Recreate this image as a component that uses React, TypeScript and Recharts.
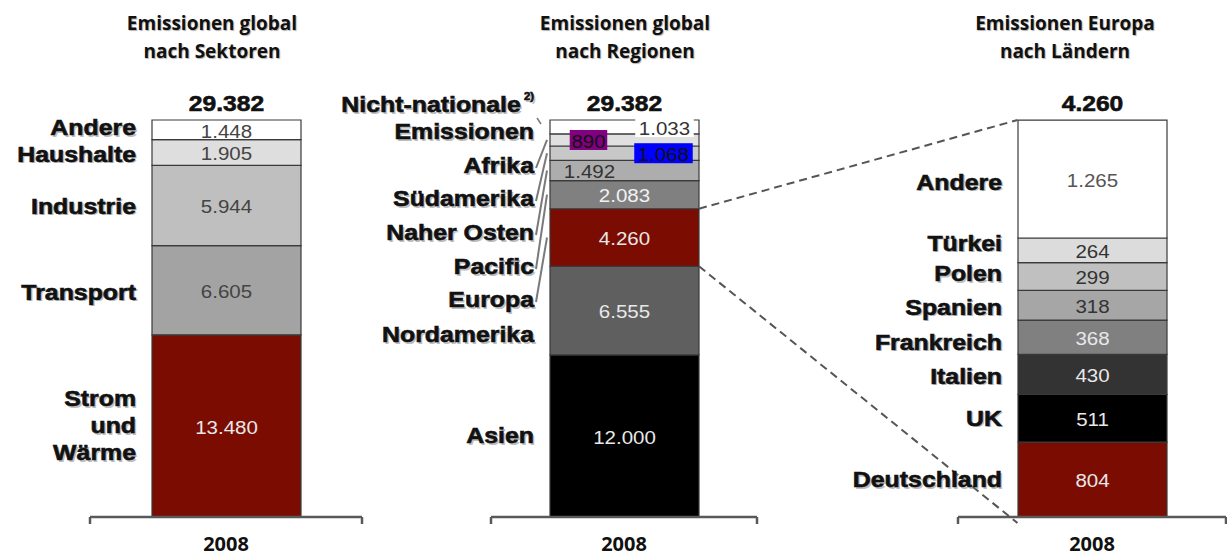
import React from "react";
import { BarChart, Bar, XAxis, YAxis, LabelList } from "recharts";

const YEAR = "2008";

const TITLES = [
  ["Emissionen global", "nach Sektoren"],
  ["Emissionen global", "nach Regionen"],
  ["Emissionen Europa", "nach Ländern"],
];

// bottom -> top
const SECTOR_NAMES = [["Strom", "und", "Wärme"], ["Transport"], ["Industrie"], ["Haushalte"], ["Andere"]];
const SECTOR_VALUES = [13480, 6605, 5944, 1905, 1448];
const SECTOR_TOTAL = 29382;

const REGION_NAMES = [
  ["Asien"], ["Nordamerika"], ["Europa"], ["Pacific"], ["Naher Osten"],
  ["Südamerika"], ["Afrika"], ["Nicht-nationale", "Emissionen"],
];
const REGION_VALUES = [12000, 6555, 4260, 2083, 1492, 1068, 890, 1033];
const REGION_TOTAL = 29382;

const EUROPE_NAMES = [
  ["Deutschland"], ["UK"], ["Italien"], ["Frankreich"], ["Spanien"],
  ["Polen"], ["Türkei"], ["Andere"],
];
const EUROPE_VALUES = [804, 511, 430, 368, 318, 299, 264, 1265];
const EUROPE_TOTAL = 4260;

// styles
const RED = "#7B0C02";
const SECTOR_FILLS = [RED, "#A3A3A3", "#BFBFBF", "#DEDEDE", "#FFFFFF"];
const SECTOR_TEXT = ["#E8E8E8", "#444", "#444", "#444", "#444"];
const REGION_FILLS = ["#000000", "#5F5F5F", RED, "#808080", "#ADADAD", "#C8C8C8", "#E0E0E0", "#FFFFFF"];
const REGION_TEXT = ["#E8E8E8", "#E8E8E8", "#E8E8E8", "#F2F2F2", "#333", "#111", "#111", "#333"];
const EUROPE_FILLS = [RED, "#000000", "#333333", "#808080", "#A6A6A6", "#C0C0C0", "#DCDCDC", "#FFFFFF"];
const EUROPE_TEXT = ["#E8E8E8", "#E8E8E8", "#E8E8E8", "#E8E8E8", "#333", "#333", "#333", "#555"];

// layout
const W = 1227;
const H = 557;
const PLOT_TOP = 120;
const PLOT_BOTTOM = 517;
const AXIS_H = 30;
const BAR_W = 149;
const PANELS = [
  { left: 90, right: 362, titleX: 212 },
  { left: 491, right: 757, titleX: 625 },
  { left: 958, right: 1226, titleX: 1065 },
];
const EUROPE_BAR_LEFT = (PANELS[2].left + PANELS[2].right) / 2 - BAR_W / 2;

const SECTOR_LABEL_DY = [0, 2, 1, 2, -2];
const REGION_LABEL_Y = [null, 335, 300, 267, 233, 199, 166, 118];
const REGION_VALUE_DX = [0, 0, 0, 0, -35, 39, -36, 40];
const REGION_VALUE_BOX = [null, null, null, null, null, "#0000FF", "#800080", "#FFFFFF"];
const EUROPE_LABEL_DY = [0, 0, 2, 5, 2, -3, -7, 3];

const fmt = (v: number) => String(v).replace(/\B(?=(\d{3})+(?!\d))/g, ".");

function SText({ x, y, children, size, bold, fill, anchor, sx, shadow, heavy }: any) {
  const common = {
    textAnchor: anchor,
    dominantBaseline: "central",
    fontSize: size,
    fontWeight: bold ? 700 : 400,
    fontFamily: "'Liberation Sans', Arial, sans-serif",
  };
  return (
    <g transform={`translate(${x},${y}) scale(${sx},1)`}>
      {shadow && (
        <text x={1.5} y={1.5} {...common} fill="#8a8a8a" opacity={0.55}>
          {children}
        </text>
      )}
      <text x={0} y={0} {...common} fill={fill} stroke={heavy ? fill : "none"} strokeWidth={heavy ? 0.6 : 0}>
        {children}
      </text>
    </g>
  );
}

function YearTick({ x, payload, panel }: any) {
  return (
    <g>
      <path d={`M${panel.left},${PLOT_BOTTOM + 7} V${PLOT_BOTTOM}`} stroke="#595959" strokeWidth={2.5} fill="none" />
      <path d={`M${panel.right},${PLOT_BOTTOM + 7} V${PLOT_BOTTOM}`} stroke="#595959" strokeWidth={2.5} fill="none" />
      <text
        x={x}
        y={PLOT_BOTTOM + 26}
        textAnchor="middle"
        dominantBaseline="central"
        fontFamily="'Open Sans', sans-serif"
        fontWeight={700}
        fontSize={20}
        fill="#111"
      >
        {payload.value}
      </text>
    </g>
  );
}

function StackPanel({ names, values, total, fills, texts, panel, labelsOnly, labelY, labelDy, valueDx, valueBox, leaders, connectIdx }: any) {
  const row: any = { year: YEAR };
  values.forEach((v: number, i: number) => (row[`s${i}`] = v));

  const content = (i: number) => (p: any) => {
    const x = Number(p.x), y = Number(p.y), w = Number(p.width), h = Number(p.height);
    const cx = x + w / 2;
    const cy = y + h / 2;
    const txt = fmt(values[i]);
    const dx = valueDx ? valueDx[i] : 0;
    const box = valueBox ? valueBox[i] : null;
    const bw = txt.length * 10.5 + 6;
    const ly = labelY && labelY[i] != null ? labelY[i] : cy + (labelDy ? labelDy[i] : 0);
    const lines: string[] = names[i];
    return (
      <g>
        {leaders && i >= 2 && i < values.length - 1 && (
          <path d={`M${x - 14},${ly + 2} L${x - 3},${cy}`} stroke="#7a7a7a" strokeWidth={2} fill="none" />
        )}
        {leaders && i === values.length - 1 && (
          <path d={`M${x - 13},${ly} L${x - 9},${ly + 6}`} stroke="#7a7a7a" strokeWidth={1.5} fill="none" />
        )}
        {connectIdx === i && (
          <g stroke="#555" strokeWidth={2} strokeDasharray="8 5" fill="none">
            <path d={`M${x + w},${y} L${EUROPE_BAR_LEFT},${PLOT_TOP}`} />
            <path d={`M${x + w},${y + h} L${EUROPE_BAR_LEFT},${PLOT_BOTTOM + 6}`} />
          </g>
        )}
        {box && <rect x={cx + dx - bw / 2} y={cy - 10} width={bw} height={20} fill={box} />}
        <SText x={cx + dx} y={cy + 1} anchor="middle" size={19} sx={1.08} fill={texts[i]}>
          {txt}
        </SText>
        {lines.map((ln, k) => (
          <SText
            key={k}
            x={x - 16}
            y={ly + (k - (lines.length - 1) / 2) * 27}
            anchor="end"
            size={22}
            bold
            heavy
            sx={1.13}
            shadow
            fill="#111"
          >
            {ln}
            {ln === "Nicht-nationale" && (
              <tspan fontSize={10} dy={-8}>
                {" 2)"}
              </tspan>
            )}
          </SText>
        ))}
        {i === values.length - 1 && (
          <SText x={cx} y={y - 17} anchor="middle" size={22} bold heavy sx={1.12} fill="#111">
            {fmt(total)}
          </SText>
        )}
      </g>
    );
  };

  return (
    <div style={{ position: "absolute", left: 0, top: 0 }}>
      <BarChart
        width={W}
        height={H}
        data={[row]}
        margin={{ top: PLOT_TOP, left: panel.left, right: W - panel.right, bottom: H - PLOT_BOTTOM - AXIS_H }}
      >
        <XAxis
          dataKey="year"
          height={AXIS_H}
          tickLine={false}
          axisLine={labelsOnly ? false : { stroke: "#595959", strokeWidth: 2.5 }}
          tick={labelsOnly ? false : (props: any) => <YearTick {...props} panel={panel} />}
        />
        <YAxis hide type="number" domain={[0, total]} />
        {values.map((_: number, i: number) => (
          <Bar
            key={i}
            dataKey={`s${i}`}
            stackId="a"
            barSize={BAR_W}
            fill={labelsOnly ? "none" : fills[i]}
            stroke={labelsOnly ? "none" : "#3a3a3a"}
            strokeWidth={1.2}
            isAnimationActive={false}
          >
            {labelsOnly && <LabelList dataKey={`s${i}`} content={content(i)} />}
          </Bar>
        ))}
      </BarChart>
    </div>
  );
}

export default function App() {
  const panels = [
    { names: SECTOR_NAMES, values: SECTOR_VALUES, total: SECTOR_TOTAL, fills: SECTOR_FILLS, texts: SECTOR_TEXT, panel: PANELS[0], labelDy: SECTOR_LABEL_DY },
    {
      names: REGION_NAMES, values: REGION_VALUES, total: REGION_TOTAL, fills: REGION_FILLS, texts: REGION_TEXT, panel: PANELS[1],
      labelY: REGION_LABEL_Y, valueDx: REGION_VALUE_DX, valueBox: REGION_VALUE_BOX, leaders: true, connectIdx: 2,
    },
    { names: EUROPE_NAMES, values: EUROPE_VALUES, total: EUROPE_TOTAL, fills: EUROPE_FILLS, texts: EUROPE_TEXT, panel: PANELS[2], labelDy: EUROPE_LABEL_DY },
  ];
  return (
    <div style={{ position: "absolute", left: 0, top: 0, width: W, height: H, background: "#fff", overflow: "hidden" }}>
      {TITLES.map((t, i) => (
        <div
          key={i}
          style={{
            position: "absolute",
            left: PANELS[i].titleX - 150,
            top: 9,
            width: 300,
            textAlign: "center",
            fontFamily: "'Open Sans', sans-serif",
            fontWeight: 700,
            fontSize: 19,
            lineHeight: "28px",
            color: "#111",
            textShadow: "1px 1px 1px rgba(0,0,0,0.3)",
          }}
        >
          {t[0]}
          <br />
          {t[1]}
        </div>
      ))}
      {panels.map((p, i) => (
        <StackPanel key={`b${i}`} {...p} />
      ))}
      {panels.map((p, i) => (
        <StackPanel key={`l${i}`} {...p} labelsOnly />
      ))}
    </div>
  );
}
